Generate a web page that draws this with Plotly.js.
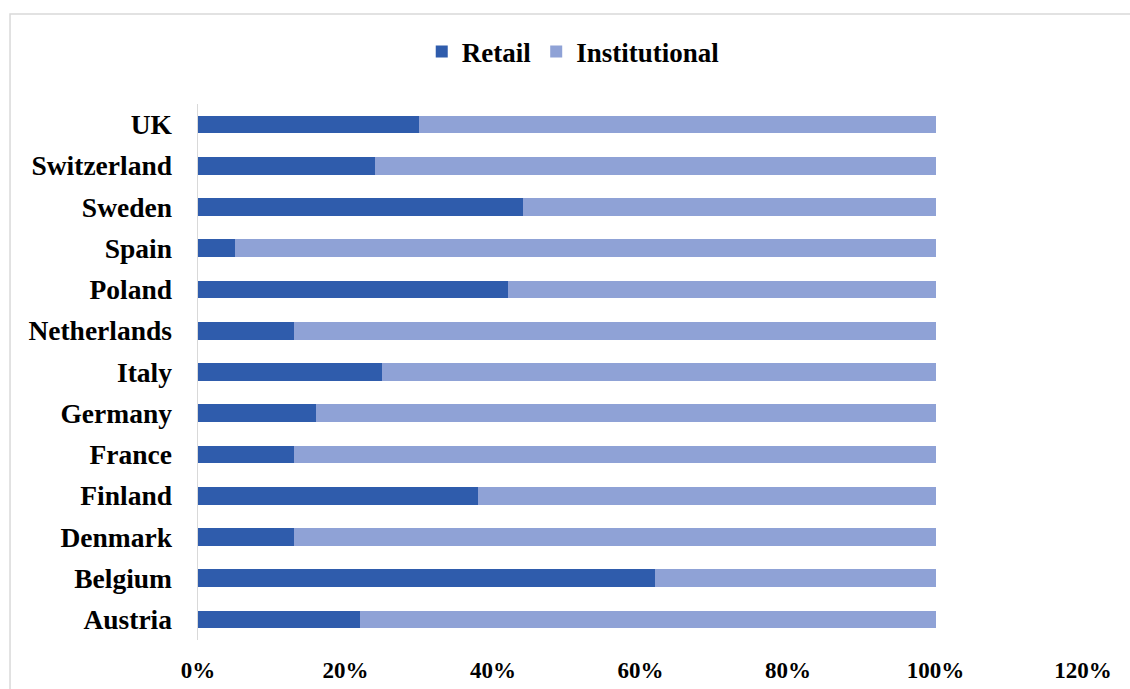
<!DOCTYPE html>
<html><head><meta charset="utf-8">
<script src="https://cdn.plot.ly/plotly-3.0.1.min.js"></script>
<style>html,body{margin:0;padding:0;background:#fff}#chart{width:1130px;height:689px}</style>
</head><body><div id="chart"></div>
<script>
const countries = ["Austria","Belgium","Denmark","Finland","France","Germany","Italy","Netherlands","Poland","Spain","Sweden","Switzerland","UK"];
const retail = [0.22,0.62,0.13,0.38,0.13,0.16,0.25,0.13,0.42,0.05,0.44,0.24,0.30];
const institutional = [0.78,0.38,0.87,0.62,0.87,0.84,0.75,0.87,0.58,0.95,0.56,0.76,0.70];
const xTicks = [0,0.2,0.4,0.6,0.8,1.0,1.2];

const fam = "Liberation Serif, Times New Roman, serif";
const traces = [
  {type:"bar", orientation:"h", name:"<b>Retail</b>", y:countries, x:retail,
   marker:{color:"#2f5cac"}, width:0.43},
  {type:"bar", orientation:"h", name:"<b>Institutional</b>", y:countries, x:institutional,
   marker:{color:"#8fa2d6"}, width:0.43}
];
const layout = {
  width:1130, height:689, barmode:"stack",
  margin:{l:198, r:47, t:104, b:49},
  paper_bgcolor:"#fff", plot_bgcolor:"#fff",
  font:{family:fam, size:23, color:"#000"},
  showlegend:true,
  legend:{orientation:"h", x:0.424, xanchor:"center", y:1.097, yanchor:"middle",
          font:{family:fam, size:27, color:"#000"}, traceorder:"normal", itemwidth:30},
  xaxis:{range:[0,1.2], tickvals:xTicks, ticktext:xTicks.map(v=>"<b>"+Math.round(v*100)+"%</b>"),
         showgrid:false, zeroline:false, showline:false, ticks:"", ticklabelstandoff:14,
         tickfont:{family:fam, size:23, color:"#000"}},
  yaxis:{type:"category", categoryorder:"array", categoryarray:countries,
         tickvals:countries, ticktext:countries.map(c=>"<b>"+c+"</b>"),
         showgrid:false, zeroline:false, showline:true, linecolor:"#d9d9d9", linewidth:1.5,
         ticks:"", ticklabelstandoff:19, tickfont:{family:fam, size:27.5, color:"#000"}},
  shapes:[{type:"rect", xref:"paper", yref:"paper", x0:-0.2124, x1:1.2, y0:-0.2, y1:1.168,
           line:{color:"#d9d9d9", width:1.5}, fillcolor:"rgba(0,0,0,0)", layer:"below"}]
};
Plotly.newPlot("chart", traces, layout, {displayModeBar:false, staticPlot:true});
</script></body></html>
